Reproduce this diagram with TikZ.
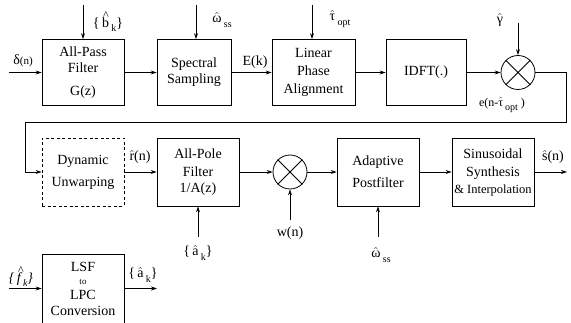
\documentclass[tikz,border=0pt]{standalone}
\usepackage{fontspec}
\usepackage{amsmath}
\setmainfont{Liberation Serif}
\usetikzlibrary{arrows.meta,positioning,calc}
\newcommand{\hh}[1]{\ensuremath{\hat{\text{#1}}}}
\newcommand{\hht}[1]{\makebox[0pt][l]{\hspace{1pt}\raisebox{7.5pt}{\fontsize{12}{12}\selectfont\^{}}}#1}
\newcommand{\sbx}[1]{\,\raisebox{-4.5pt}{\fontsize{10}{11}\selectfont #1}}
\tikzset{
  blk/.style={draw, line width=0.8pt, align=center, inner sep=0pt, minimum width=82pt, minimum height=66pt},
  mult/.style={draw, circle, line width=0.8pt, minimum size=34pt, inner sep=0pt},
  sig/.style={-{Stealth[length=6pt,width=4pt]}, line width=0.8pt},
  lbl/.style={font=\fontsize{14}{16}\selectfont, inner sep=1pt}
}

\begin{document}
\begin{tikzpicture}[x=1pt, y=-1pt, font=\fontsize{14}{16}\selectfont]
\useasboundingbox (0,0) rectangle (571,323);
% analysis row
\node[blk] (allpass) at (83,72.5) {All-Pass\\Filter\\[7pt]G(z)};
\node[blk, minimum width=74pt] (spec) at (194,72.5) {Spectral\\Sampling};
\node[blk, minimum width=83pt] (linph) at (313.5,72.5) {Linear\\[2pt]Phase\\[2pt]Alignment};
\node[blk, minimum width=80pt] (idft) at (426,72.5) {IDFT(.)};
\node[mult] (mulg) at (518,72.5) {};
\draw[line width=0.8pt] (mulg.north west) -- (mulg.south east) (mulg.north east) -- (mulg.south west);

% synthesis row
\node[blk, minimum height=68pt, dash pattern=on 3pt off 2.5pt] (unwarp) at (83,172) {Dynamic\\[6pt]Unwarping};
\node[blk, minimum height=68pt] (allpole) at (198,172) {All-Pole\\[2pt]Filter\\1/A(z)};
\node[mult] (mulw) at (290,172) {};
\draw[line width=0.8pt] (mulw.north west) -- (mulw.south east) (mulw.north east) -- (mulw.south west);
\node[blk, minimum height=68pt] (post) at (378,172) {Adaptive\\[6pt]Postfilter};
\node[blk, minimum height=68pt] (sinus) at (493,172) {Sinusoidal\\[2pt]Synthesis\\[1pt]{\fontsize{12.5}{14}\selectfont\& Interpolation}};

% LSF conversion
\node[blk, minimum height=69pt] (lsf) at (83,288.5) {LSF\\[-3pt]{\fontsize{9}{10}\selectfont to}\\[-1pt]LPC\\Conversion};

% free ends
\coordinate (din) at (9,72.5);
\coordinate (bin) at (83,5);
\coordinate (win) at (196,5);
\coordinate (tin) at (312,5);
\coordinate (gin) at (518,23);
\coordinate (fbr) at (566,122);
\coordinate (fbl) at (25,122);
\coordinate (ain) at (198,237);
\coordinate (wnin) at (290,220);
\coordinate (oin) at (378,237);
\coordinate (sout) at (567,172);
\coordinate (fin) at (9,288.5);
\coordinate (aout) at (157,288.5);

% connectors
\draw[sig] (din) -- (allpass);
\draw[sig] (allpass) -- (spec);
\draw[sig] (spec) -- (linph);
\draw[sig] (linph) -- (idft);
\draw[sig] (idft) -- (mulg);
\draw[sig] (bin) -- (allpass);
\draw[sig] (win) -- (win |- spec.north);
\draw[sig] (tin) -- (tin |- linph.north);
\draw[sig] (gin) -- (mulg);
\draw[sig] (mulg.east) -- (fbr |- mulg.east) -- (fbr) -- (fbl) -- (fbl |- unwarp.west) -- (unwarp.west);
\draw[sig] (unwarp) -- (allpole);
\draw[sig] (allpole) -- (mulw);
\draw[sig] (mulw) -- (post);
\draw[sig] (post) -- (sinus);
\draw[sig] (sinus) -- (sout);
\draw[sig] (ain) -- (allpole);
\draw[sig] (wnin) -- (mulw);
\draw[sig] (oin) -- (post);
\draw[sig] (fin) -- (lsf);
\draw[sig] (lsf) -- (aout);

% labels
\node[lbl] (dlbl) at (23,61) {δ{\fontsize{11}{12}\selectfont(n)}};
\node[lbl] (blbl) at (108,22) {\{\,\hht{b}\sbx{k}\}};
\node[lbl] (wlbl) at (222,20) {\hh{ω}\sbx{ss}};
\node[lbl] (tlbl) at (340,19) {\hh{τ}\sbx{opt}};
\node[lbl] (glbl) at (500,20) {\hh{γ}};
\node[lbl] (elbl) at (255,62) {E(k)};
\node[lbl, font=\fontsize{12}{14}\selectfont] (eolbl) at (502,105) {e(n-\hh{τ}\sbx{opt} )};
\node[lbl] (rlbl) at (140,157) {\hh{r}(n)};
\node[lbl] (slbl) at (553,157) {\hh{s}(n)};
\node[lbl] (albl) at (198,253) {\{\,\hh{a}\sbx{k}\}};
\node[lbl] (wnlbl) at (290,233) {w(n)};
\node[lbl] (olbl) at (381,255) {\hh{ω}\sbx{ss}};
\node[lbl] (flbl) at (21,277) {\textit{\{\,\hht{\textit{f}}\sbx{k}\}}};
\node[lbl] (aolbl) at (143,275) {\{\,\hh{a}\sbx{k}\}};
\end{tikzpicture}
\end{document}
